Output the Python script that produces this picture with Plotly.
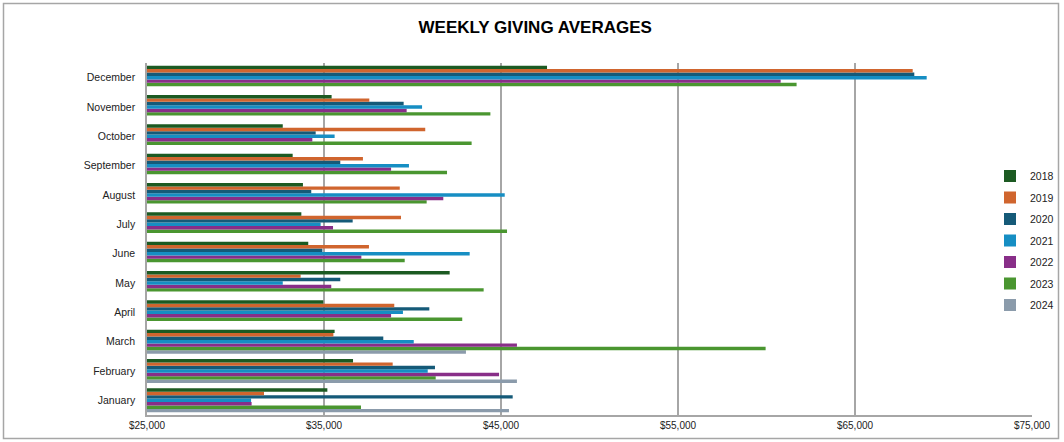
import plotly.graph_objects as go

months = ["January", "February", "March", "April", "May", "June", "July",
          "August", "September", "October", "November", "December"]

y2018 = [35190, 36640, 35600, 34960, 42100, 34110, 33720, 33810, 33230, 32670, 35430, 47600]
y2019 = [31610, 38880, 35530, 38970, 33680, 37540, 39350, 39280, 37200, 40720, 37560, 68260]
y2020 = [45660, 41270, 38350, 40950, 35920, 34910, 36620, 34280, 35920, 34530, 39500, 68350]
y2021 = [30880, 40860, 40070, 39460, 32670, 43230, 34810, 45210, 39800, 35600, 40540, 69050]
y2022 = [30910, 44890, 45900, 38790, 35410, 37110, 35510, 41740, 38790, 34340, 39670, 60800]
y2023 = [37090, 41310, 59950, 42810, 44020, 39560, 45340, 40800, 41950, 43340, 44400, 61700]
y2024 = [45450, 45900, 43020, None, None, None, None, None, None, None, None, None]

years = ["2018", "2019", "2020", "2021", "2022", "2023", "2024"]
series = [y2018, y2019, y2020, y2021, y2022, y2023, y2024]
colors = ["#1C5A22", "#D0652E", "#155A78", "#168EC3", "#882E88", "#4A9630", "#8B9BAB"]

fig = go.Figure()
# add in reverse so that 2018 sits at the top of each group
items = list(zip(years, series, colors))
for rank, (name, vals, col) in reversed(list(enumerate(items))):
    fig.add_trace(go.Bar(
        y=months, x=vals, name=name, orientation="h", legendgroup=name,
        legendrank=100 + rank,
        marker=dict(color=col, line=dict(width=0)),
    ))

fig.update_layout(
    width=1064, height=442,
    barmode="group", bargap=0.18, bargroupgap=0.0,
    paper_bgcolor="white", plot_bgcolor="white",
    margin=dict(l=147, r=32, t=63, b=27, autoexpand=False),
    title=dict(text="<b>WEEKLY GIVING AVERAGES</b>", x=0.503, xref="container",
               y=1 - 27 / 442, yanchor="middle",
               font=dict(family="Liberation Sans, Arial, sans-serif", size=17, color="#000000")),
    showlegend=True,
    legend=dict(traceorder="grouped", x=(990 - 147) / 885, xref="paper", xanchor="left",
                y=0.496, yref="paper", yanchor="middle", bgcolor="rgba(0,0,0,0)",
                font=dict(family="Liberation Sans, Arial, sans-serif", size=10.5, color="#222222"),
                itemwidth=30, tracegroupgap=2.5),
    font=dict(family="Liberation Sans, Arial, sans-serif", size=10.5, color="#222222"),
)

fig.update_xaxes(
    range=[25000, 75000], tickvals=[25000, 35000, 45000, 55000, 65000, 75000],
    tickformat="$,.0f", showgrid=True, gridcolor="#A6A6A6", gridwidth=1.5,
    zeroline=False, showline=True, linecolor="#A6A6A6", linewidth=1.5,
    tickfont=dict(size=10, color="#222222"), ticks="", fixedrange=True,
)
fig.update_yaxes(
    categoryorder="array", categoryarray=months, showgrid=False,
    showline=True, linecolor="#A6A6A6", linewidth=1.5, ticks="",
    tickfont=dict(size=10.5, color="#222222"), ticklabelstandoff=8,
)

# outer chart border
fig.add_shape(type="rect", xref="paper", yref="paper",
              x0=(3.5 - 147) / 885, x1=(1058.5 - 147) / 885,
              y0=(415 - 438.5) / 352, y1=(415 - 3.5) / 352,
              line=dict(color="#A6A6A6", width=1.5), fillcolor="rgba(0,0,0,0)", layer="below")

fig.write_html("out.html", config={"displayModeBar": False},
               post_script="document.body.style.margin='0';")
